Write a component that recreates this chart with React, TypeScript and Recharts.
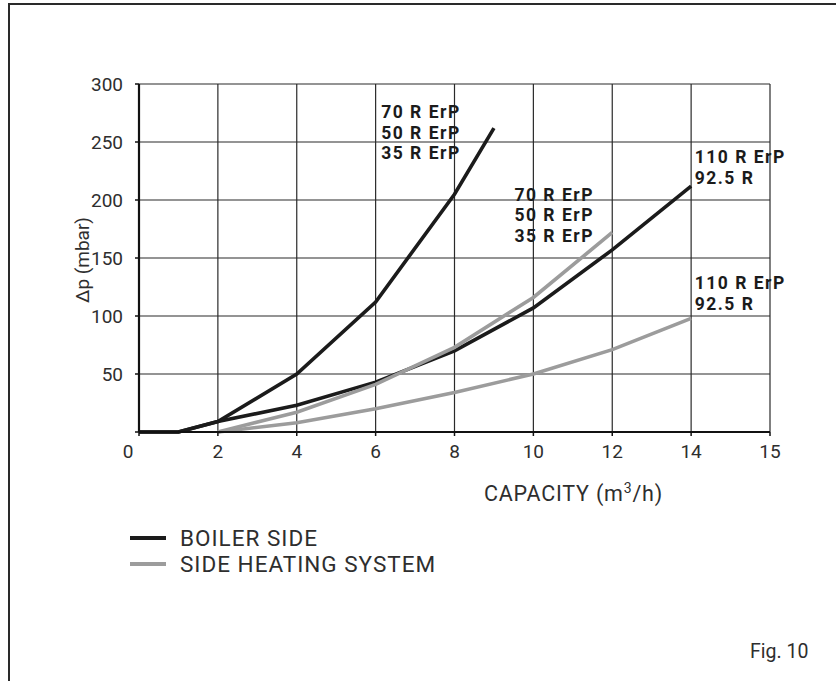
import React from 'react';
import { LineChart, Line, XAxis, YAxis, CartesianGrid, Legend, ReferenceDot } from 'recharts';

// Capacity (m3/h) and pressure drop Δp (mbar)
const boilerSmallX = [0, 1, 2, 4, 6, 8, 9];
const boilerSmallDp = [0, 0, 9, 50, 112, 205, 262];
const boilerLargeX = [0, 1, 2, 4, 6, 8, 10, 12, 14];
const boilerLargeDp = [0, 0, 9, 23, 43, 70, 107, 157, 212];
const heatingSmallX = [2, 4, 6, 8, 10, 12];
const heatingSmallDp = [0, 17, 41, 73, 116, 172];
const heatingLargeX = [2, 4, 6, 8, 10, 12, 14];
const heatingLargeDp = [0, 8, 20, 34, 50, 71, 98];

const xTickValues = [0, 2, 4, 6, 8, 10, 12, 14, 16];
const xTickLabels = ['0', '2', '4', '6', '8', '10', '12', '14', '15'];
const yTickValues = [0, 50, 100, 150, 200, 250, 300];
const yTickLabels = ['', '50', '100', '150', '200', '250', '300'];

const annotationX = [6.14, 9.52, 14.09, 14.09];
const annotationDp = [276, 205, 237, 128.5];
const annotationTexts = [
  ['70 R ErP', '50 R ErP', '35 R ErP'],
  ['70 R ErP', '50 R ErP', '35 R ErP'],
  ['110 R ErP', '92.5 R'],
  ['110 R ErP', '92.5 R'],
];

const legendNames = ['BOILER SIDE', 'SIDE HEATING SYSTEM'];

const BLACK = '#1b1b1b';
const GREY = '#9c9c9c';
const TEXT = '#2e2e2e';
const FONT = 'Roboto, sans-serif';

const zip = (xs: number[], ys: number[]) => xs.map((x, i) => ({ x, dp: ys[i] }));

const seriesList = [
  { key: 'b1', name: legendNames[0], data: zip(boilerSmallX, boilerSmallDp), color: BLACK },
  { key: 'b2', name: legendNames[0], data: zip(boilerLargeX, boilerLargeDp), color: BLACK },
  { key: 'h1', name: legendNames[1], data: zip(heatingSmallX, heatingSmallDp), color: GREY },
  { key: 'h2', name: legendNames[1], data: zip(heatingLargeX, heatingLargeDp), color: GREY },
];

const XTick = (props: any) => {
  const { x, y, payload } = props;
  const idx = xTickValues.indexOf(payload.value);
  const label = idx >= 0 ? xTickLabels[idx] : String(payload.value);
  return (
    <text x={payload.value === 0 ? x - 11 : x} y={y} dy="0.71em" textAnchor="middle" fill={TEXT}
      fontFamily={FONT} fontSize={19}>
      {label}
    </text>
  );
};

const YTick = (props: any) => {
  const { x, y, payload } = props;
  const idx = yTickValues.indexOf(payload.value);
  const label = idx >= 0 ? yTickLabels[idx] : String(payload.value);
  return (
    <text x={x} y={y} dy="0.355em" textAnchor="end" fill={TEXT} fontFamily={FONT} fontSize={19}>
      {label}
    </text>
  );
};

const LegendContent = () => (
  <svg width={340} height={56}>
    {[BLACK, GREY].map((c, i) => (
      <g key={i}>
        <line x1={5} x2={41} y1={13 + i * 26} y2={13 + i * 26} stroke={c} strokeWidth={4} />
        <text x={55} y={13 + i * 26} dy="0.36em" fill={TEXT} fontFamily={FONT} fontSize={22.5}
          letterSpacing={1}>
          {legendNames[i]}
        </text>
      </g>
    ))}
  </svg>
);

const Annotation = (lines: string[]) => (props: any) => {
  const { cx, cy } = props;
  return (
    <g>
      {lines.map((t, i) => (
        <text key={i} x={cx} y={cy + i * 20.5} dy="0.36em" fill={BLACK} fontFamily={FONT}
          fontWeight={700} fontSize={17.5} letterSpacing={1.5}>
          {t}
        </text>
      ))}
    </g>
  );
};

export default function App() {
  return (
    <div style={{ position: 'absolute', left: 0, top: 0, width: 836, height: 681, background: '#fff', overflow: 'hidden' }}>
      <div style={{ position: 'absolute', left: 8, top: 3, width: 900, height: 800, borderLeft: '2px solid #2a2a2a', borderTop: '2px solid #2a2a2a' }} />
      <div style={{ position: 'absolute', left: 0, top: 0 }}>
        <LineChart width={836} height={681} margin={{ top: 84, right: 66, left: 0, bottom: 189 }}>
          <CartesianGrid stroke="#2a2a2a" strokeWidth={1.2} horizontalValues={yTickValues} verticalValues={xTickValues} />
          <XAxis type="number" dataKey="x" domain={[0, 16]} ticks={xTickValues} interval={0}
            height={60} tickSize={4} tickMargin={9} stroke="#111" strokeWidth={2}
            tick={<XTick />} tickLine={{ stroke: '#111', strokeWidth: 1.5 }} allowDuplicatedCategory={false}
            label={{
              content: (p: any) => (
                <text x={p.viewBox.x + 434.5} y={p.viewBox.y + 61} dy="0.36em" textAnchor="middle"
                  fill={TEXT} fontFamily={FONT} fontSize={21.5} letterSpacing={0.8}>
                  CAPACITY (m<tspan fontSize={14} dy={-8}>3</tspan><tspan dy={8}>/h)</tspan>
                </text>
              ),
            }} />
          <YAxis type="number" dataKey="dp" domain={[0, 300]} ticks={yTickValues} interval={0}
            width={139} tickSize={4} tickMargin={12} stroke="#111" strokeWidth={2.2}
            tick={<YTick />} tickLine={{ stroke: '#111', strokeWidth: 1.5 }}
            label={{
              content: (p: any) => {
                const cx = 82;
                const cy = p.viewBox.y + p.viewBox.height / 2 + 2;
                return (
                  <text x={cx} y={cy} dy="0.36em" textAnchor="middle" transform={`rotate(-90 ${cx} ${cy})`}
                    fill={TEXT} fontFamily={FONT} fontSize={19}>
                    Δp (mbar)
                  </text>
                );
              },
            }} />
          {seriesList.map((s) => (
            <Line key={s.key} data={s.data} dataKey="dp" name={s.name} type="linear" stroke={s.color}
              strokeWidth={3.6} dot={false} activeDot={false} isAnimationActive={false} legendType="line" />
          ))}
          {annotationX.map((ax, i) => (
            <ReferenceDot key={i} x={ax} y={annotationDp[i]} r={0} ifOverflow="visible"
              shape={Annotation(annotationTexts[i])} />
          ))}
          <Legend layout="vertical" align="center" verticalAlign="middle" content={<LegendContent />}
            wrapperStyle={{ left: 125, top: 525, width: 340, height: 56 }} />
        </LineChart>
      </div>
      <div style={{ position: 'absolute', left: 750, top: 640, fontFamily: FONT, fontSize: 19.5, color: TEXT, lineHeight: '24px' }}>
        Fig. 10
      </div>
    </div>
  );
}
